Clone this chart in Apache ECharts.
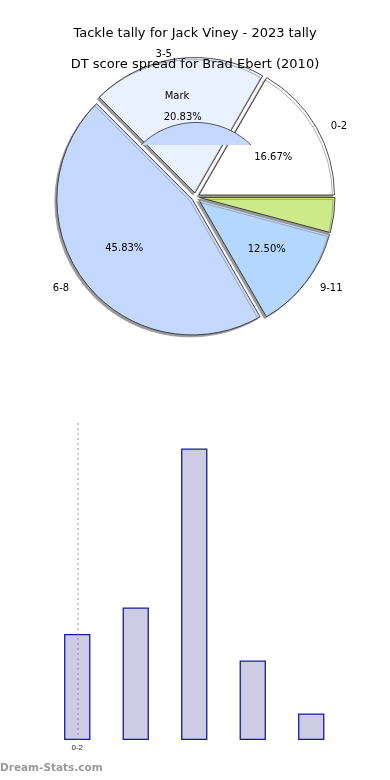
<!DOCTYPE html>
<html>
<head>
<meta charset="utf-8">
<script src="https://cdn.jsdelivr.net/npm/echarts@6/dist/echarts.min.js"></script>
<style>
html,body{margin:0;padding:0;background:#fff;}
#c{width:390px;height:780px;}
</style>
</head>
<body>
<div id="c"></div>
<script>
// ---- data ----
const categories = ['0-2', '3-5', '6-8', '9-11', '12-14'];
const pieValues = [4, 5, 11, 3, 1];
const pieColors = ['#ffffff', '#eaf1ff', '#c5d8ff', '#b3d7ff', '#cdea8a'];
const pieNameLabels = ['0-2', '3-5', '6-8', '9-11', ''];
const barValues = [4, 5, 11, 3, 1];
const titleMain = 'Tackle tally for Jack Viney - 2023 tally';
const titleSub = 'DT score spread for Brad Ebert (2010)';
const markText = 'Mark';
const watermark = 'Dream-Stats.com';

const FONT = 'DejaVu Sans';
const total = pieValues.reduce((a, b) => a + b, 0);
const pieCenter = [195.5, 197];
const R = 135.5;
// small label nudges (reference pie is slightly flattened)
const pctLabelOffsets = [[0, 5], [-1, 9], [0, -3], [0, -2], [0, 0]];
const nameLabelOffsets = [[3, 5], [-2, 7], [-5, 0], [3, 0], [0, 0]];

function pieData(withStyle) {
  return categories.map((c, i) => ({
    name: c,
    value: pieValues[i],
    selected: true,
    itemStyle: withStyle ? { color: pieColors[i] } : { color: 'transparent' }
  }));
}
function nudge(offsets) {
  return function (p) {
    const o = offsets[p.dataIndex] || [0, 0];
    return { dx: o[0], dy: o[1] };
  };
}

// decorative lens shape (artifact in reference)
const seg = (function () {
  const cx = 196, cy = 201, r = 78.5, cutY = 145;
  const a0 = Math.asin((cy - cutY) / r);
  const pts = [];
  const n = 40;
  for (let k = 0; k <= n; k++) {
    const a = a0 + (Math.PI - 2 * a0) * k / n;
    pts.push([cx + r * Math.cos(a), cy - r * Math.sin(a)]);
  }
  return pts;
})();

const chart = echarts.init(document.getElementById('c'), null, { renderer: 'canvas' });
chart.setOption({
  animation: false,
  backgroundColor: '#ffffff',
  title: [
    { text: titleMain, left: 'center', top: 22, textStyle: { fontFamily: FONT, fontSize: 13, fontWeight: 'normal', color: '#000' } },
    { text: titleSub, left: 'center', top: 53, textStyle: { fontFamily: FONT, fontSize: 13, fontWeight: 'normal', color: '#000' } }
  ],
  grid: { left: 48, right: 49.5, top: 422, bottom: 40 },
  xAxis: {
    type: 'category',
    data: categories,
    axisLine: { show: false },
    axisTick: { show: false },
    axisLabel: {
      interval: function (i) { return i === 0; },
      fontFamily: 'Liberation Sans', fontSize: 8, color: '#222', margin: 4
    }
  },
  yAxis: { type: 'value', min: 0, max: 12, show: false, splitLine: { show: false } },
  graphic: [
    { type: 'polygon', z: 100, shape: { points: seg }, style: { fill: '#c5d8ff', stroke: null } },
    { type: 'polyline', z: 101, shape: { points: seg }, style: { stroke: '#333', lineWidth: 0.8, fill: null } },
    { type: 'text', z: 102, x: 177, y: 96, style: { text: markText, fontFamily: FONT, fontSize: 10, fill: '#000', align: 'center', verticalAlign: 'middle' } },
    { type: 'text', z: 102, left: 0, top: 763, style: { text: watermark, fontFamily: FONT, fontSize: 10.5, fontWeight: 'bold', fill: '#9a9a9a' } }
  ],
  series: [
    {
      type: 'pie',
      center: pieCenter,
      radius: R,
      startAngle: 0,
      clockwise: false,
      selectedMode: 'multiple',
      selectedOffset: 4,
      silent: true,
      label: { show: false },
      labelLine: { show: false },
      itemStyle: { borderColor: '#222', borderWidth: 0.8, shadowColor: '#9a9a9a', shadowBlur: 0, shadowOffsetX: -2, shadowOffsetY: 2 },
      data: pieData(true),
      z: 2
    },
    {
      type: 'pie',
      center: pieCenter,
      radius: [30, R],
      startAngle: 0,
      clockwise: false,
      selectedMode: 'multiple',
      selectedOffset: 4,
      silent: true,
      itemStyle: { color: 'transparent', borderWidth: 0 },
      label: {
        show: true, position: 'inside', fontFamily: FONT, fontSize: 10, color: '#000',
        formatter: function (p) { return p.value >= 2 ? (p.value / total * 100).toFixed(2) + '%' : ''; }
      },
      labelLine: { show: false },
      labelLayout: nudge(pctLabelOffsets),
      data: pieData(false),
      z: 3
    },
    {
      type: 'pie',
      center: pieCenter,
      radius: R,
      startAngle: 0,
      clockwise: false,
      selectedMode: 'multiple',
      selectedOffset: 4,
      silent: true,
      avoidLabelOverlap: false,
      itemStyle: { color: 'transparent', borderWidth: 0 },
      label: {
        show: true, position: 'outside', fontFamily: FONT, fontSize: 10, color: '#000',
        distanceToLabelLine: 2,
        formatter: function (p) { return pieNameLabels[p.dataIndex]; }
      },
      labelLine: { show: false, length: 11, length2: 0 },
      labelLayout: nudge(nameLabelOffsets),
      data: pieData(false),
      z: 3
    },
    {
      type: 'bar',
      data: barValues,
      barWidth: '45%',
      itemStyle: { color: '#ccccE5', borderColor: '#1a1a99', borderWidth: 1.3 },
      markLine: {
        silent: true,
        symbol: 'none',
        label: { show: false },
        lineStyle: { color: 'rgba(120,120,120,0.5)', type: [2, 3], width: 1.5 },
        data: [{ xAxis: categories[0] }]
      }
    }
  ]
});
</script>
</body>
</html>
